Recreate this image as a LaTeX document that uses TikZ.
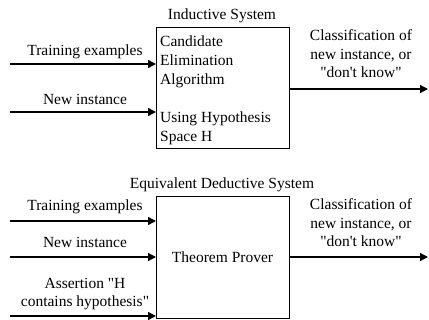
\documentclass[tikz,border=0pt]{standalone}
\usepackage{fontspec}
\setmainfont{Liberation Serif}
\usetikzlibrary{arrows.meta}
\newcommand{\dq}{\textquotedbl}
\newcommand{\sq}{\textquotesingle}
\begin{document}
\begin{tikzpicture}[x=1pt,y=-1pt,
  lbl/.style={font=\fontsize{15.5}{18.5}\selectfont,inner sep=0pt,align=center},
  boxs/.style={draw,line width=1pt,inner sep=0pt},
  arr/.style={line width=1.4pt,-{Triangle[length=8pt,width=8pt]}}]
\useasboundingbox (0,0) rectangle (429,320);
% top system
\node[boxs,minimum width=133pt,minimum height=121pt,anchor=north west] (ind) at (156,27) {};
\node[lbl,anchor=south] (indt) at (222,23) {Inductive System};
\node[lbl,align=left,anchor=north west,font=\fontsize{15.5}{19}\selectfont] (indtxt) at (160,36) {Candidate\\Elimination\\Algorithm\\[19pt]Using Hypothesis\\Space H};
\coordinate (a1) at (10,64);
\coordinate (a2) at (10,112);
\draw[arr] (a1) -- (a1 -| ind.west);
\draw[arr] (a2) -- (a2 -| ind.west);
\node[lbl] (l1) at (85,52) {Training examples};
\node[lbl] (l2) at (85,99) {New instance};
\coordinate (o1) at (428,89);
\draw[arr] (ind.east |- o1) -- (o1);
\node[lbl] (ol1) at (361,54) {Classification of\\new instance, or\\\dq don\sq t know\dq};
% bottom system
\node[boxs,minimum width=133pt,minimum height=122pt,anchor=north west] (ded) at (156,196.5) {};
\node[lbl,anchor=south] (dedt) at (222,192) {Equivalent Deductive System};
\node[lbl] (tp) at (222.5,257) {Theorem Prover};
\coordinate (b1) at (10,221);
\coordinate (b2) at (10,257);
\coordinate (b3) at (10,316);
\draw[arr] (b1) -- (b1 -| ded.west);
\draw[arr] (b2) -- (b2 -| ded.west);
\draw[arr] (b3) -- (b3 -| ded.west);
\node[lbl] (m1) at (85,207) {Training examples};
\node[lbl] (m2) at (85,242) {New instance};
\node[lbl] (m3) at (85,294) {Assertion \dq H\\contains hypothesis\dq};
\coordinate (o2) at (428,257);
\draw[arr] (ded.east |- o2) -- (o2);
\node[lbl] (ol2) at (361,223) {Classification of\\new instance, or\\\dq don\sq t know\dq};
\end{tikzpicture}
\end{document}
